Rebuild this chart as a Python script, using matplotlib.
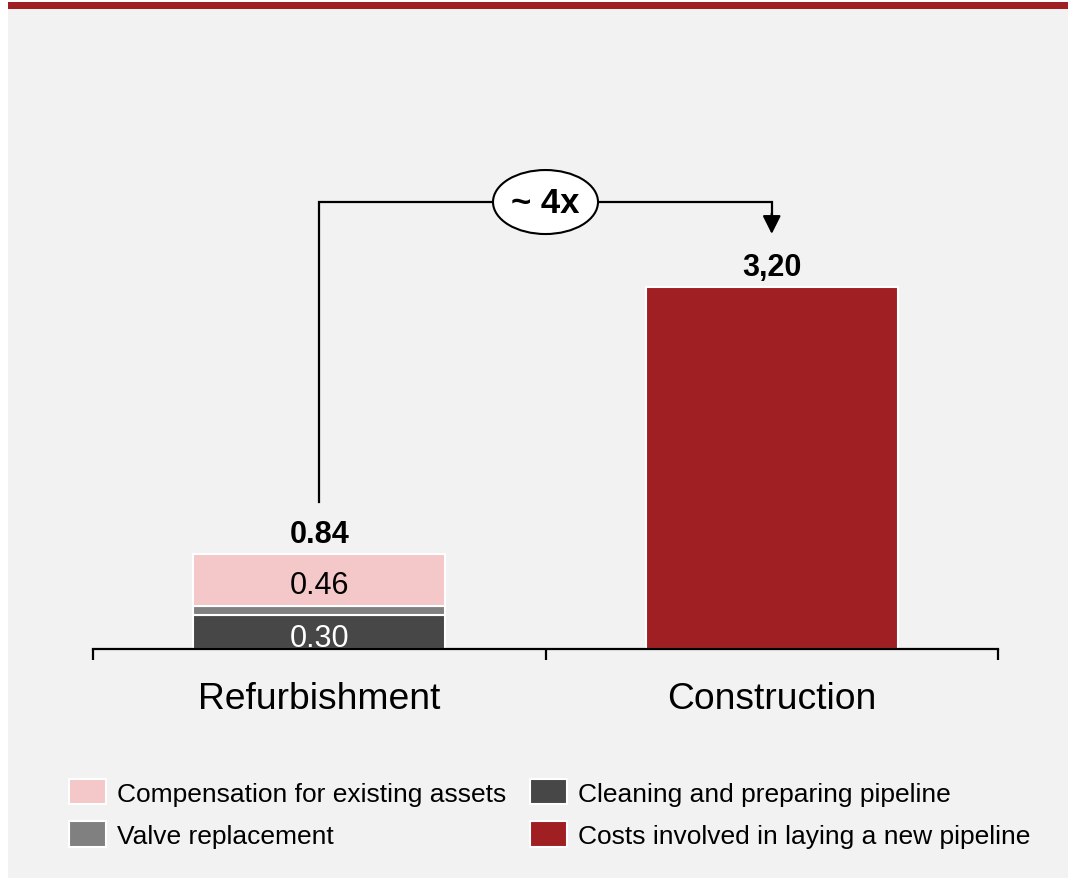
import matplotlib
matplotlib.use("Agg")
import matplotlib.pyplot as plt
from matplotlib.patches import Rectangle, Ellipse, Patch
from matplotlib.lines import Line2D

plt.rcParams["font.family"] = ["Liberation Sans", "DejaVu Sans"]

# ---- data ----
categories = ["Refurbishment", "Construction"]
cleaning = [0.30, 0.00]
valve = [0.08, 0.00]
compensation = [0.46, 0.00]
new_pipeline = [0.00, 3.20]
totals = [0.84, 3.20]
total_labels = ["0.84", "3,20"]
ratio_label = "~ 4x"

legend_labels = [
    "Compensation for existing assets",
    "Valve replacement",
    "Cleaning and preparing pipeline",
    "Costs involved in laying a new pipeline",
]

# ---- style ----
BG = "#f2f2f2"
PINK = "#f4c7c8"
GREY = "#808080"
DARK = "#474747"
RED = "#a01f22"

W, H = 1068, 879
fig = plt.figure(figsize=(W / 100, H / 100), dpi=100, facecolor="white")

# panel background and header band
fig.patches.append(Rectangle((8 / W, 0), 1 - 8 / W, 1 - 9 / H,
                             transform=fig.transFigure, facecolor=BG,
                             edgecolor="none", zorder=-10))
fig.patches.append(Rectangle((8 / W, 1 - 9.5 / H), 1 - 8 / W, 6.5 / H,
                             transform=fig.transFigure, facecolor=RED,
                             edgecolor="none", zorder=-9))

px_per_unit = 113.1
ax_h_px = 520
ax = fig.add_axes([93 / W, (H - 650) / H, 905 / W, ax_h_px / H])
ax.set_facecolor("none")
ax.set_xlim(-0.5, 1.5)
ax.set_ylim(0, ax_h_px / px_per_unit)

x = list(range(len(categories)))
bw = 0.557
edge = dict(edgecolor="white", linewidth=1.5)

ax.bar(x[0], cleaning[0], bw, color=DARK, **edge)
ax.bar(x[0], valve[0], bw, bottom=cleaning[0], color=GREY, **edge)
ax.bar(x[0], compensation[0], bw, bottom=cleaning[0] + valve[0],
       color=PINK, **edge)
ax.bar(x[1], new_pipeline[1], bw, color=RED, **edge)

# segment values
ax.annotate(f"{cleaning[0]:.2f}", (x[0], cleaning[0] / 2), xytext=(0, -10),
            textcoords="offset points", ha="center", va="baseline",
            fontsize=22, color="white")
ax.annotate(f"{compensation[0]:.2f}",
            (x[0], cleaning[0] + valve[0] + compensation[0] / 2),
            xytext=(0, -9.5), textcoords="offset points", ha="center",
            va="baseline", fontsize=22, color="black")

# totals
for xi, tv, tl in zip(x, totals, total_labels):
    ax.annotate(tl, (xi, tv), xytext=(0, 8.5), textcoords="offset points",
                ha="center", va="baseline", fontsize=22, fontweight="bold")

# comparison connector
y_top = 3.952
ax.add_line(Line2D([x[0], x[0], x[1], x[1]], [1.30, y_top, y_top, 3.80],
                   color="black", linewidth=1.6, solid_joinstyle="miter",
                   zorder=4))
ax.annotate("", xy=(x[1], 3.67), xytext=(x[1], 3.85),
            arrowprops=dict(arrowstyle="-|>,head_length=1.1,head_width=0.55",
                            mutation_scale=10, color="black", lw=1.6,
                            shrinkA=0, shrinkB=0), zorder=5)
ax.add_patch(Ellipse((0.5, y_top), 105 / 452.5, 64 / px_per_unit,
                     facecolor="white", edgecolor="black", linewidth=1.5,
                     zorder=6))
ax.text(0.5, y_top, ratio_label, ha="center", va="center", fontsize=25,
        fontweight="bold", zorder=7)

# axes styling
for s in ["top", "right", "left"]:
    ax.spines[s].set_visible(False)
ax.spines["bottom"].set_linewidth(1.6)
ax.spines["bottom"].set_zorder(8)
ax.set_yticks([])
ax.set_xticks([-0.5, 0.5, 1.5])
ax.set_xticklabels([])
ax.tick_params(axis="x", which="major", length=8, width=1.6, direction="out")
ax.set_xticks(x, minor=True)
ax.set_xticklabels(categories, minor=True, fontsize=26.8)
ax.tick_params(axis="x", which="minor", length=0, pad=23)

# legend
handles = [
    Patch(facecolor=PINK, edgecolor="white", linewidth=1.5),
    Patch(facecolor=GREY, edgecolor="white", linewidth=1.5),
    Patch(facecolor=DARK, edgecolor="white", linewidth=1.5),
    Patch(facecolor=RED, edgecolor="white", linewidth=1.5),
]
fig.legend(handles, legend_labels, ncol=2, loc="upper left",
           bbox_to_anchor=(69 / W, 1 - 780 / H), bbox_transform=fig.transFigure,
           frameon=False, fontsize=19, handlelength=1.4, handleheight=1.1,
           handletextpad=0.42, columnspacing=0.9, labelspacing=0.6,
           borderpad=0, borderaxespad=0)

fig.savefig("out.png", dpi=100, facecolor=fig.get_facecolor())
